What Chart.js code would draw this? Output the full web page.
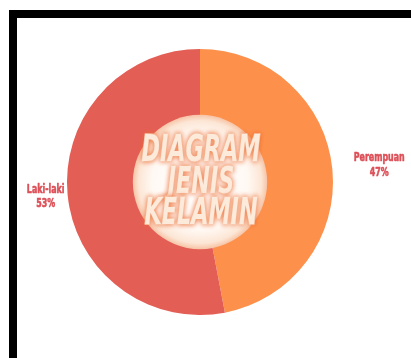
<!DOCTYPE html>
<html>
<head>
<meta charset="utf-8">
<script src="https://cdn.jsdelivr.net/npm/chart.js@4"></script>
<style>
  html, body { margin: 0; padding: 0; background: #fff; }
  body { width: 411px; height: 358px; position: relative; overflow: hidden; }
  #frame {
    position: absolute; left: 9px; top: 10px; width: 420px; height: 360px;
    border-top: 8px solid #000; border-left: 8px solid #000;
  }
  #wrap { position: absolute; left: 0; top: 0; width: 411px; height: 358px; }
</style>
</head>
<body>
<div id="frame"></div>
<div id="wrap"><canvas id="myChart"></canvas></div>
<script>
// Data
let genderLabels = ['Perempuan', 'Laki-laki'];
let genderShares = [47, 53];
let sliceColors = ['#FD914C', '#E35E55'];
let titleLines = ['DIAGRAM', 'JENIS', 'KELAMIN'];

// distance of label centre beyond the ring, per slice
let labelGap = [47, 22];

// draw text squeezed horizontally (no narrow font installed), stroked to look heavier
function squeezedText(ctx, text, x, y, sx, stroke) {
    ctx.save();
    ctx.translate(x, y);
    ctx.scale(sx, 1);
    if (stroke) {
        ctx.lineWidth = stroke;
        ctx.lineJoin = 'round';
        ctx.strokeText(text, 0, 0);
    }
    ctx.fillText(text, 0, 0);
    ctx.restore();
}

let holePlugin = {
    id: 'hole',
    afterDatasetsDraw(chart) {
        let arc = chart.getDatasetMeta(0).data[0];
        let ctx = chart.ctx;
        let cx = arc.x, cy = arc.y, r = arc.innerRadius;
        ctx.save();
        let g = ctx.createRadialGradient(cx, cy, 0, cx, cy, r + 3);
        g.addColorStop(0, '#FFFFFF');
        g.addColorStop(0.7, '#FFF9F4');
        g.addColorStop(0.9, '#FCE6D5');
        g.addColorStop(1, '#F6BE9F');
        ctx.fillStyle = g;
        ctx.beginPath();
        ctx.arc(cx, cy, r + 2, 0, Math.PI * 2);
        ctx.fill();

        // title in the middle
        ctx.font = 'italic bold 38px "DejaVu Sans", sans-serif';
        ctx.textAlign = 'center';
        ctx.textBaseline = 'middle';
        ctx.shadowColor = 'rgba(236,108,48,0.95)';
        ctx.shadowBlur = 5;
        ctx.fillStyle = '#FCEADB';
        ctx.strokeStyle = '#FCEADB';
        let lineH = 31.5;
        let sx = 119 / ctx.measureText(titleLines[0]).width;
        titleLines.forEach((t, i) => {
            squeezedText(ctx, t, cx + 1, cy + 1 + (i - 1) * lineH, sx, 1.5);
        });
        ctx.restore();
    }
};

let outsideLabels = {
    id: 'outsideLabels',
    afterDraw(chart) {
        let ctx = chart.ctx;
        let meta = chart.getDatasetMeta(0);
        ctx.save();
        ctx.font = 'bold 12px "DejaVu Sans", sans-serif';
        ctx.fillStyle = '#DD5058';
        ctx.strokeStyle = '#DD5058';
        ctx.textAlign = 'center';
        ctx.textBaseline = 'middle';
        meta.data.forEach((arc, i) => {
            let mid = (arc.startAngle + arc.endAngle) / 2;
            let dist = arc.outerRadius + labelGap[i];
            let x = arc.x + Math.cos(mid) * dist;
            let y = arc.y + Math.sin(mid) * dist;
            squeezedText(ctx, genderLabels[i], x, y - 7, 0.66, 0.6);
            squeezedText(ctx, genderShares[i] + '%', x, y + 7.5, 0.66, 0.6);
        });
        ctx.restore();
    }
};

let ctx = document.getElementById('myChart').getContext('2d');
let myChart = new Chart(ctx, {
    type: 'doughnut',
    data: {
        labels: genderLabels,
        datasets: [{
            data: genderShares,
            backgroundColor: sliceColors,
            borderWidth: 0
        }]
    },
    options: {
        responsive: true,
        maintainAspectRatio: false,
        animation: false,
        cutout: '49%',
        layout: { padding: { left: 67, right: 78, top: 49, bottom: 43 } },
        plugins: {
            legend: { display: false },
            tooltip: { enabled: false }
        }
    },
    plugins: [holePlugin, outsideLabels]
});
</script>
</body>
</html>
